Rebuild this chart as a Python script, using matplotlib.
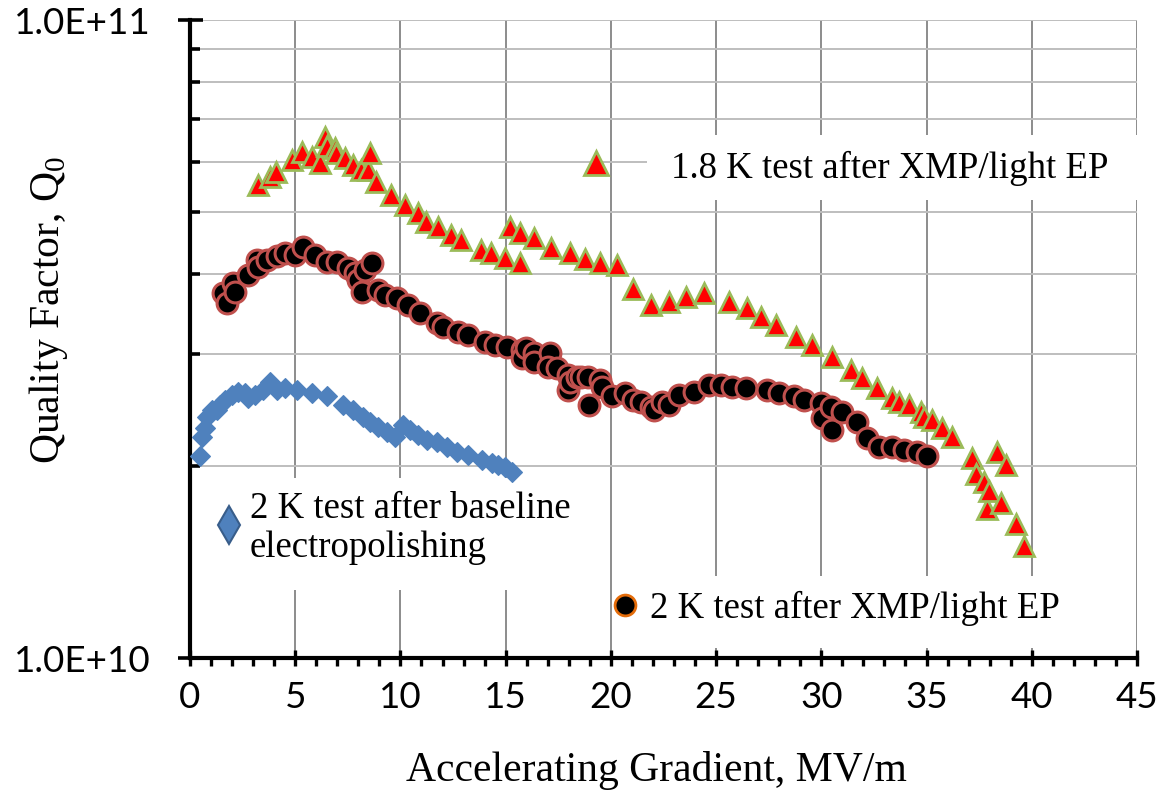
import numpy as np
import matplotlib
matplotlib.use('Agg')
import matplotlib.pyplot as plt
from matplotlib.ticker import LogLocator, FuncFormatter, NullFormatter, MultipleLocator
from matplotlib.patches import Rectangle

plt.rcParams['font.family'] = ['Liberation Serif', 'DejaVu Serif']
plt.rcParams['mathtext.fontset'] = 'custom'
plt.rcParams['mathtext.rm'] = 'Liberation Serif'

### data (gradient in MV/m, Q0 in units of 1e10)
tri_x = [3.24, 3.80, 4.11, 4.83, 5.30, 5.78, 6.17, 6.41, 6.49, 6.88, 6.96, 7.36, 7.75, 8.15, 8.46,
         8.54, 8.86, 9.57, 10.20, 10.84, 11.23, 11.78, 12.42, 12.90, 13.84, 14.32, 14.95, 15.19, 15.66, 15.66,
         16.37, 17.17, 18.04, 18.75, 19.46, 20.27, 21.03, 21.93, 22.78, 23.59, 24.44, 25.63, 26.48, 27.15, 27.86,
         28.81, 29.57, 30.52, 31.42, 31.94, 32.65, 33.36, 33.70, 34.17, 34.74, 34.88, 35.26, 35.74, 36.21, 37.16,
         37.35, 37.73, 37.87, 37.97, 38.35, 38.54, 38.78, 39.25, 39.63]
tri_q = [5.51, 5.67, 5.78, 6.03, 6.21, 6.10, 5.97, 6.56, 6.35, 6.30, 6.19, 6.08, 5.93, 5.82, 5.82,
         6.19, 5.57, 5.32, 5.13, 4.98, 4.83, 4.74, 4.60, 4.52, 4.36, 4.31, 4.24, 4.74, 4.63, 4.16,
         4.55, 4.39, 4.31, 4.22, 4.16, 4.13, 3.79, 3.58, 3.61, 3.68, 3.73, 3.61, 3.54, 3.42, 3.33,
         3.18, 3.09, 2.96, 2.83, 2.75, 2.65, 2.56, 2.52, 2.49, 2.43, 2.39, 2.36, 2.29, 2.22, 2.06,
         1.94, 1.89, 1.71, 1.83, 2.10, 1.75, 2.01, 1.62, 1.50]

circ_x = [1.57, 1.76, 2.04, 2.14, 2.75, 3.18, 3.23, 3.65, 4.13, 4.51, 4.98, 5.36, 5.93, 6.50, 6.98,
          7.50, 7.83, 7.97, 8.16, 8.31, 8.64, 8.92, 9.25, 9.82, 10.35, 10.92, 11.72, 12.01, 12.72, 13.19,
          14.00, 14.48, 15.05, 15.76, 15.80, 15.99, 16.37, 16.37, 17.09, 17.00, 17.42, 17.94, 17.94, 18.04, 18.37,
          18.60, 18.89, 18.98, 19.46, 19.60, 20.03, 20.65, 21.03, 21.45, 21.93, 22.07, 22.45, 22.78, 23.26, 23.97,
          24.68, 25.25, 25.77, 26.44, 27.43, 28.00, 28.71, 29.19, 30.00, 30.04, 30.47, 30.52, 30.99, 31.70, 32.18,
          32.75, 33.36, 33.93, 34.55, 35.03]
circ_q = [3.73, 3.60, 3.87, 3.75, 3.98, 4.21, 4.10, 4.21, 4.27, 4.31, 4.28, 4.41, 4.28, 4.18, 4.18,
          4.09, 4.01, 3.91, 3.75, 4.06, 4.16, 3.78, 3.71, 3.67, 3.58, 3.47, 3.35, 3.30, 3.24, 3.21,
          3.13, 3.09, 3.07, 3.04, 2.95, 3.06, 3.01, 2.91, 3.01, 2.86, 2.85, 2.78, 2.63, 2.71, 2.76,
          2.76, 2.76, 2.49, 2.73, 2.66, 2.57, 2.60, 2.54, 2.52, 2.47, 2.45, 2.52, 2.49, 2.58, 2.61,
          2.68, 2.68, 2.66, 2.65, 2.63, 2.60, 2.57, 2.54, 2.51, 2.38, 2.47, 2.28, 2.43, 2.34, 2.21,
          2.14, 2.14, 2.12, 2.10, 2.07]

diam_x = [0.47, 0.57, 0.71, 0.81, 1.04, 1.28, 1.42, 1.66, 1.99, 2.28, 2.61, 2.75, 3.08, 3.46, 3.80,
          4.13, 4.51, 5.08, 5.79, 6.50, 7.26, 7.74, 8.21, 8.54, 8.92, 9.35, 9.73, 10.11, 10.44, 10.82,
          11.25, 11.72, 12.20, 12.67, 13.19, 13.86, 14.33, 14.62, 14.95, 15.28]
diam_q = [2.07, 2.22, 2.29, 2.39, 2.45, 2.45, 2.49, 2.54, 2.58, 2.61, 2.60, 2.56, 2.58, 2.63, 2.71,
          2.63, 2.65, 2.63, 2.60, 2.57, 2.49, 2.45, 2.39, 2.34, 2.30, 2.26, 2.22, 2.32, 2.28, 2.24,
          2.20, 2.18, 2.14, 2.10, 2.08, 2.04, 2.02, 2.01, 1.99, 1.96]

label_18K = '1.8 K test after XMP/light EP'
label_2K_base = '2 K test after baseline\nelectropolishing'
label_2K_xmp = '2 K test after XMP/light EP'

tickFont = 'Lato'

fig = plt.figure(figsize=(11.57, 7.95), dpi=100)
ax = fig.add_axes([0.1642, 0.1723, 0.8185, 0.8025])

### series
ax.plot(diam_x, np.array(diam_q) * 1e10, ls='none', marker='D', ms=10.5,
        mfc='#4F81BD', mec='#4F81BD', mew=0.8, zorder=4)
ax.plot(circ_x, np.array(circ_q) * 1e10, ls='none', marker='o', ms=15,
        mfc='black', mec='#C0504D', mew=2.2, zorder=5)
ax.plot(tri_x, np.array(tri_q) * 1e10, ls='none', marker='^', ms=14,
        mfc='#FF0000', mec='#9BBB59', mew=2.0, zorder=6)

### axes, ticks, grid
ax.set_yscale('log')
ax.set_xlim(0, 45)
ax.set_ylim(1e10, 1e11)

ax.xaxis.set_major_locator(MultipleLocator(5))
ax.xaxis.set_minor_locator(MultipleLocator(1))
ax.yaxis.set_major_locator(LogLocator(base=10))
ax.yaxis.set_minor_locator(LogLocator(base=10, subs=np.arange(2, 10)))
ax.yaxis.set_major_formatter(FuncFormatter(lambda v, p: f'{v:.1E}'))
ax.yaxis.set_minor_formatter(NullFormatter())

ax.tick_params(axis='x', which='major', direction='inout', length=11, width=2.4, pad=11, labelsize=26.5)
ax.tick_params(axis='x', which='minor', direction='out', length=6, width=2.4)
ax.tick_params(axis='y', which='major', direction='inout', length=18, width=2.6, pad=19, labelsize=26.5)
ax.tick_params(axis='y', which='minor', direction='in', length=7, width=2.6)
for lbl in ax.get_xticklabels() + ax.get_yticklabels():
    lbl.set_fontfamily(tickFont)

for s in ['top', 'right']:
    ax.spines[s].set_visible(False)
for s in ['left', 'bottom']:
    ax.spines[s].set_linewidth(3)

ax.grid(True, which='major', axis='x', color='#8C8C8C', lw=1.4, zorder=0)
ax.grid(True, which='both', axis='y', color='#BEBEBE', lw=1.4, zorder=0)
ax.set_axisbelow(True)

ax.set_xlabel('Accelerating Gradient, MV/m', fontsize=30)
ax.set_ylabel('Quality Factor, Q$_0$', fontsize=30)
ax.xaxis.set_label_coords(0.493, -0.145)
ax.yaxis.set_label_coords(-0.127, 0.545)

### legend boxes (white panels over the grid, marker + text)
def legendBox(x0, y0, w, h):
    ax.add_patch(Rectangle((x0, y0), w, h, transform=ax.transAxes, facecolor='white',
                           edgecolor='none', zorder=3, clip_on=False))

legendBox(0.483, 0.718, 0.527, 0.102)
ax.plot([0.429], [0.776], transform=ax.transAxes, marker='^', ms=17, mfc='#FF0000',
        mec='#9BBB59', mew=2.0, ls='none', zorder=7, clip_on=False)
ax.text(0.508, 0.768, label_18K, transform=ax.transAxes, fontsize=26.5, va='center', ha='left', zorder=7)

legendBox(0.01, 0.107, 0.38, 0.175)
ax.plot([0.041], [0.208], transform=ax.transAxes, marker='d', ms=19, mfc='#4F81BD',
        mec='#385D8A', mew=1.5, ls='none', zorder=7)
ax.text(0.063, 0.203, label_2K_base, transform=ax.transAxes, fontsize=26.5, va='center', ha='left',
        linespacing=1.18, zorder=7)

legendBox(0.448, 0.016, 0.492, 0.113)
ax.plot([0.459], [0.083], transform=ax.transAxes, marker='o', ms=15, mfc='black',
        mec='#E46C0A', mew=2.0, ls='none', zorder=7)
ax.text(0.486, 0.078, label_2K_xmp, transform=ax.transAxes, fontsize=26.5, va='center', ha='left', zorder=7)

fig.savefig('out.png', dpi=100)
